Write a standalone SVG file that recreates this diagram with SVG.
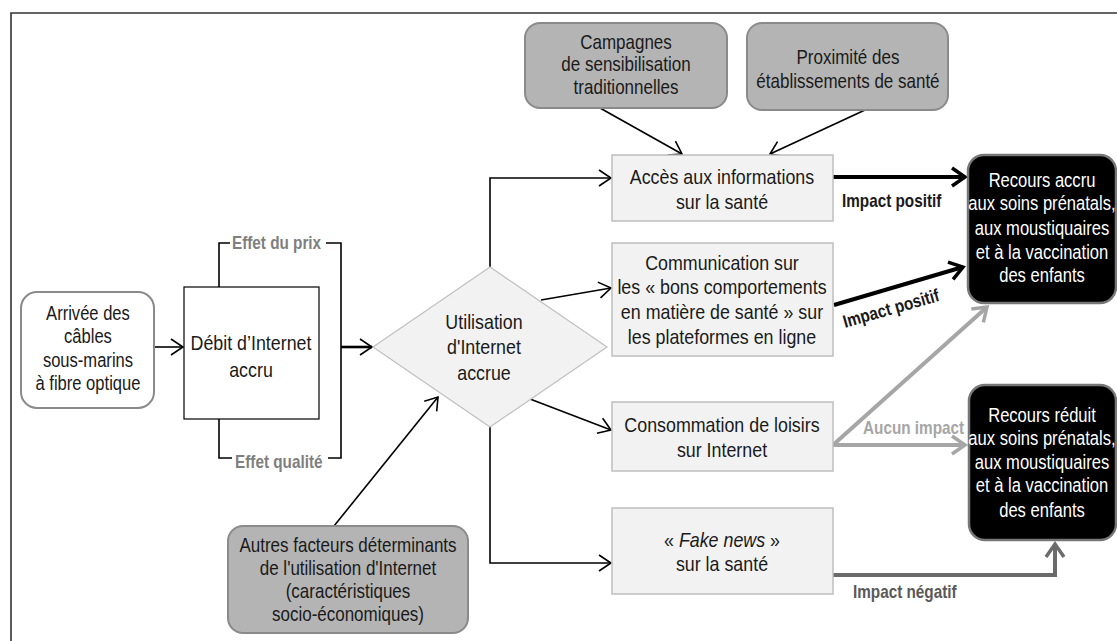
<svg xmlns="http://www.w3.org/2000/svg" width="1117" height="641" viewBox="0 0 1117 641">
<style>
text{font-family:"Liberation Sans",Arial,sans-serif;font-size:21px;fill:#1a1a1a;text-anchor:middle}
.s{font-size:19.5px}
.m{font-size:20px}
.w{fill:#fff;font-size:19.5px}
.lbl{font-weight:bold;font-size:18px;text-anchor:start}
.box{fill:#f2f2f2;stroke:#bfbfbf;stroke-width:1.5}
.gray{fill:#b4b4b4;stroke:#8a8a8a;stroke-width:2}
.blk{fill:#000;stroke:#777;stroke-width:2.5}
.c{fill:none;stroke:#000;stroke-width:1.6}
.thick{fill:none;stroke-width:4}
</style>
<defs>
<marker id="a" markerUnits="userSpaceOnUse" markerWidth="16" markerHeight="20" refX="13" refY="10" orient="auto" overflow="visible">
<path d="M1,2 L13,10 L1,18" fill="none" stroke="#000" stroke-width="1.6"/>
</marker>
<marker id="ab" markerUnits="userSpaceOnUse" markerWidth="20" markerHeight="24" refX="15" refY="12" orient="auto" overflow="visible">
<path d="M2,3 L15,12 L2,21" fill="none" stroke="#000" stroke-width="3.5"/>
</marker>
<marker id="ag" markerUnits="userSpaceOnUse" markerWidth="20" markerHeight="24" refX="15" refY="12" orient="auto" overflow="visible">
<path d="M2,3 L15,12 L2,21" fill="none" stroke="#a6a6a6" stroke-width="3.5"/>
</marker>
<marker id="ad" markerUnits="userSpaceOnUse" markerWidth="20" markerHeight="24" refX="15" refY="12" orient="auto" overflow="visible">
<path d="M2,3 L15,12 L2,21" fill="none" stroke="#6b6b6b" stroke-width="3.5"/>
</marker>
</defs>
<rect width="1117" height="641" fill="#fff"/>
<path d="M11,641 V13 H1117" fill="none" stroke="#333" stroke-width="1.6"/>

<g id="connectors">
<line class="c" x1="154" y1="347" x2="183" y2="347" marker-end="url(#a)"/>
<path class="c" d="M219,287 V243 H230 M326,243 H341 V458 H328 M232,458 H219 V419"/>
<line x1="341" y1="347" x2="372" y2="347" stroke="#000" stroke-width="2.6" marker-end="url(#a)"/>
<path class="c" d="M490,267 V178 H611" marker-end="url(#a)"/>
<line class="c" x1="541" y1="300" x2="611" y2="288" marker-end="url(#a)"/>
<line class="c" x1="530" y1="399" x2="611" y2="430" marker-end="url(#a)"/>
<path class="c" d="M490,427 V563 H611" marker-end="url(#a)"/>
<line class="c" x1="334" y1="526" x2="438" y2="397" marker-end="url(#a)"/>
<line class="c" x1="600" y1="108" x2="682" y2="154" marker-end="url(#a)"/>
<line class="c" x1="865" y1="110" x2="770" y2="154" marker-end="url(#a)"/>
<line class="thick" stroke="#000" x1="833" y1="177" x2="965" y2="177" marker-end="url(#ab)"/>
<line class="thick" stroke="#000" x1="834" y1="305" x2="963" y2="267" marker-end="url(#ab)"/>
<line class="thick" stroke="#a6a6a6" x1="833" y1="445" x2="987" y2="307" marker-end="url(#ag)"/>
<line class="thick" stroke="#a6a6a6" x1="833" y1="445" x2="965" y2="445" marker-end="url(#ag)"/>
<path class="thick" stroke="#6b6b6b" d="M833,575 H1055 V544" marker-end="url(#ad)"/>
<g transform="scale(0.85 1)">
<text class="lbl" x="272.9" y="249" style="fill:#7f7f7f">Effet du prix</text>
<text class="lbl" x="276.5" y="468" style="fill:#7f7f7f">Effet qualité</text>
<text class="lbl" x="990.6" y="207">Impact positif</text>
<text class="lbl" x="1015.3" y="434" style="fill:#a6a6a6">Aucun impact</text>
<text class="lbl" x="1003.5" y="598" style="fill:#595959">Impact négatif</text>
</g>
<text class="lbl" x="994.1" y="328" transform="rotate(-16 845 328) scale(0.85 1)">Impact positif</text>
</g>

<g id="arrivee">
<rect x="21" y="292" width="133" height="116" rx="16" fill="#fff" stroke="#8a8a8a" stroke-width="2"/>
<g transform="scale(0.85 1)">
<text class="s" x="103.5" y="320">Arrivée des</text>
<text class="s" x="103.5" y="343">câbles</text>
<text class="s" x="103.5" y="367">sous-marins</text>
<text class="s" x="103.5" y="390">à fibre optique</text>
</g>
</g>
<g id="debit">
<rect x="184" y="287" width="135" height="132" fill="#fff" stroke="#000" stroke-width="1.2"/>
<g transform="scale(0.85 1)">
<text x="295.3" y="350">Débit d’Internet</text>
<text x="295.3" y="377">accru</text>
</g>
</g>
<g id="utilisation">
<polygon points="490,267 607,347 490,427 373,347" fill="#f2f2f2" stroke="#c0c0c0" stroke-width="1.2"/>
<g transform="scale(0.85 1)">
<text x="569.4" y="329">Utilisation</text>
<text x="569.4" y="354">d'Internet</text>
<text x="569.4" y="380">accrue</text>
</g>
</g>
<g id="campagnes">
<rect x="525" y="23" width="202" height="85" rx="15" class="gray"/>
<g transform="scale(0.85 1)">
<text class="m" x="736.5" y="49">Campagnes</text>
<text class="m" x="736.5" y="71">de sensibilisation</text>
<text class="m" x="736.5" y="94">traditionnelles</text>
</g>
</g>
<g id="proximite">
<rect x="747" y="23" width="201" height="87" rx="15" class="gray"/>
<g transform="scale(0.85 1)">
<text class="m" x="997.6" y="64">Proximité des</text>
<text class="m" x="997.6" y="88">établissements de santé</text>
</g>
</g>
<g id="acces">
<rect x="612" y="155" width="221" height="66" class="box"/>
<g transform="scale(0.85 1)">
<text x="849.4" y="184">Accès aux informations</text>
<text x="849.4" y="209">sur la santé</text>
</g>
</g>
<g id="communication">
<rect x="612" y="243" width="221" height="113" class="box"/>
<g transform="scale(0.85 1)">
<text x="849.4" y="270">Communication sur</text>
<text x="849.4" y="294">les « bons comportements</text>
<text x="849.4" y="319">en matière de santé » sur</text>
<text x="849.4" y="344">les plateformes en ligne</text>
</g>
</g>
<g id="consommation">
<rect x="612" y="402" width="221" height="69" class="box"/>
<g transform="scale(0.85 1)">
<text x="849.4" y="432">Consommation de loisirs</text>
<text x="849.4" y="457">sur Internet</text>
</g>
</g>
<g id="fakenews">
<rect x="612" y="508" width="221" height="86" class="box"/>
<g transform="scale(0.85 1)">
<text x="849.4" y="547">« <tspan font-style="italic">Fake news</tspan> »</text>
<text x="849.4" y="571">sur la santé</text>
</g>
</g>
<g id="autres">
<rect x="228" y="526" width="240" height="107" rx="15" class="gray"/>
<g transform="scale(0.85 1)">
<text class="m" x="409.4" y="552">Autres facteurs déterminants</text>
<text class="m" x="409.4" y="575">de l'utilisation d'Internet</text>
<text class="m" x="409.4" y="598">(caractéristiques</text>
<text class="m" x="409.4" y="621">socio-économiques)</text>
</g>
</g>
<g id="accru">
<rect x="968" y="155" width="148" height="148" rx="16" class="blk"/>
<g transform="scale(0.85 1)">
<text class="w" x="1225.9" y="187">Recours accru</text>
<text class="w" x="1225.9" y="210">aux soins prénatals,</text>
<text class="w" x="1225.9" y="235">aux moustiquaires</text>
<text class="w" x="1225.9" y="259">et à la vaccination</text>
<text class="w" x="1225.9" y="282">des enfants</text>
</g>
</g>
<g id="reduit">
<rect x="969" y="385" width="147" height="155" rx="16" class="blk"/>
<g transform="scale(0.85 1)">
<text class="w" x="1225.9" y="422">Recours réduit</text>
<text class="w" x="1225.9" y="445">aux soins prénatals,</text>
<text class="w" x="1225.9" y="469">aux moustiquaires</text>
<text class="w" x="1225.9" y="492">et à la vaccination</text>
<text class="w" x="1225.9" y="517">des enfants</text>
</g>
</g>
</svg>
